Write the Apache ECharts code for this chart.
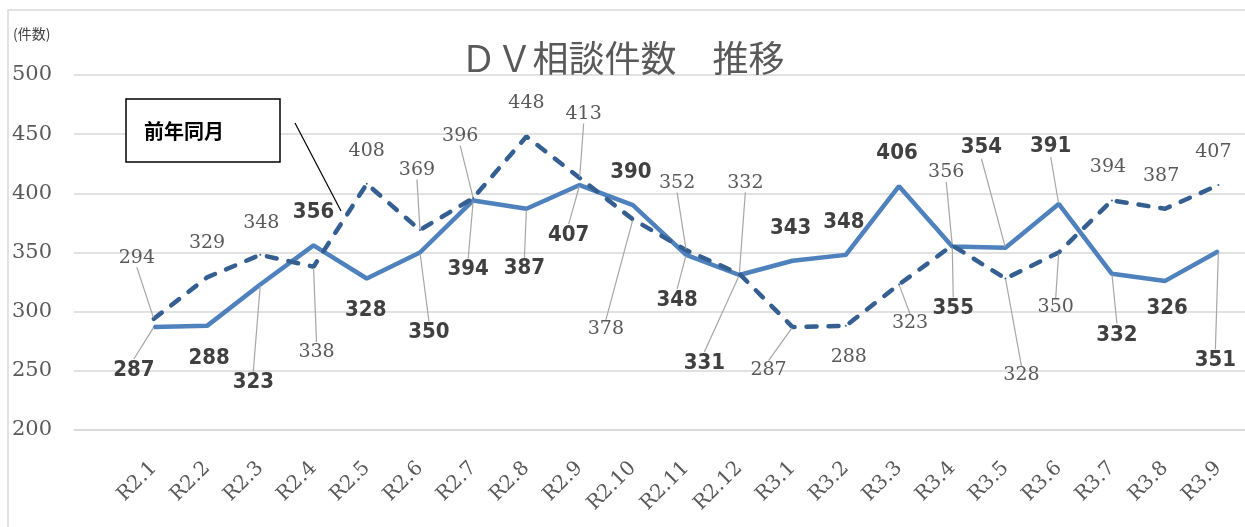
<!DOCTYPE html>
<html>
<head>
<meta charset="utf-8">
<script src="https://cdn.jsdelivr.net/npm/echarts@6/dist/echarts.min.js"></script>
<style>
html,body{margin:0;padding:0;background:#fff;}
#chart{width:1245px;height:527px;}
</style>
</head>
<body>
<div id="chart"></div>
<script>
// ---- data ----
const categories = ['R2.1','R2.2','R2.3','R2.4','R2.5','R2.6','R2.7','R2.8','R2.9','R2.10','R2.11','R2.12',
                    'R3.1','R3.2','R3.3','R3.4','R3.5','R3.6','R3.7','R3.8','R3.9'];
const currentYear  = [287,288,323,356,328,350,394,387,407,390,348,331,343,348,406,355,354,391,332,326,351];
const previousYear = [294,329,348,338,408,369,396,448,413,378,352,332,287,288,323,356,328,350,394,387,407];
const yTicks = {min: 200, max: 500, interval: 50};

// ---- label placement (layout only) ----
const curLabelOffsets = [[-20,43],[2,32],[-7,98],[0,-33],[-1,32],[9,80],[-5,69],[-2,60],[-11,50],[-2,-33],[-9,45],
                         [-35,88],[-2,-33],[-2,-33],[-2,-33],[1,62],[-24,-100],[-8,-58],[5,61],[2,27],[-3,109]];
const curLeader = [1,0,1,0,0,1,1,1,1,0,1,1,0,0,0,1,1,1,1,0,1];
const prevLabelOffsets = [[-17,-61],[0,-34],[1,-32],[3,85],[0,-33],[-3,-60],[-13,-62],[0,-33],[4,-64],[-27,110],[-9,-67],
                          [6,-91],[-24,43],[3,31],[11,39],[-6,-73],[16,97],[-3,55],[-4,-33],[-4,-33],[-5,-33]];
const prevLeader = [1,0,0,1,0,1,1,0,1,1,1,1,1,0,1,1,1,1,0,0,0];

function buildData(values, leaders) {
  const out = ['-'];
  values.forEach((v, i) => {
    out.push({value: v, labelLine: {show: !!leaders[i]}});
  });
  return out;
}
function layoutFor(offsets) {
  return function (params) {
    const o = offsets[params.dataIndex - 1];
    if (!o) return {};
    return {dx: o[0], dy: o[1]};
  };
}

const chart = echarts.init(document.getElementById('chart'));
chart.setOption({
  animation: false,
  backgroundColor: '#ffffff',
  title: {
    text: 'ＤＶ相談件数　推移',
    left: 'center',
    top: 35,
    textStyle: {fontFamily: "'Noto Sans CJK JP', sans-serif", fontWeight: 'normal', fontSize: 36, color: '#595959'}
  },
  grid: {left: 74, top: 75, width: 1172, height: 355},
  xAxis: {
    type: 'category',
    data: [''].concat(categories),
    boundaryGap: true,
    axisTick: {show: false},
    axisLine: {lineStyle: {color: '#D9D9D9', width: 1.5}},
    axisLabel: {rotate: 45, interval: 0, margin: 35, fontFamily: "'DejaVu Serif', serif", fontSize: 20, color: '#595959'}
  },
  yAxis: {
    type: 'value',
    min: yTicks.min, max: yTicks.max, interval: yTicks.interval,
    axisLine: {show: false},
    axisTick: {show: false},
    axisLabel: {align: 'left', margin: 62, fontFamily: "'DejaVu Serif', serif", fontSize: 21, color: '#595959'},
    splitLine: {lineStyle: {color: '#D9D9D9', width: 1.5}}
  },
  series: [
    {
      name: '今年',
      type: 'line',
      data: buildData(currentYear, curLeader),
      symbol: 'circle', symbolSize: 2, showAllSymbol: true,
      itemStyle: {color: '#4F81BD'},
      lineStyle: {color: '#4F81BD', width: 4.5},
      emphasis: {disabled: true},
      label: {show: true, position: 'inside', fontFamily: "'DejaVu Sans Condensed', 'Liberation Sans', sans-serif",
              fontWeight: 'bold', fontSize: 22, color: '#404040'},
      labelLine: {show: false, length2: 0, lineStyle: {color: '#A6A6A6', width: 1.2}},
      labelLayout: layoutFor(curLabelOffsets),
      z: 2
    },
    {
      name: '前年同月',
      type: 'line',
      data: buildData(previousYear, prevLeader),
      symbol: 'circle', symbolSize: 2, showAllSymbol: true,
      itemStyle: {color: '#355F91'},
      lineStyle: {color: '#355F91', width: 4.5, type: [10, 12], cap: 'round'},
      emphasis: {disabled: true},
      label: {show: true, position: 'inside', fontFamily: "'DejaVu Serif', serif",
              fontSize: 19, color: '#595959'},
      labelLine: {show: false, length2: 0, lineStyle: {color: '#A6A6A6', width: 1.2}},
      labelLayout: layoutFor(prevLabelOffsets),
      z: 3
    }
  ],
  graphic: [
    {type: 'rect', z: -10, shape: {x: 8, y: 10, width: 1260, height: 540},
     style: {fill: 'none', stroke: '#D9D9D9', lineWidth: 1.5}, silent: true},
    {type: 'text', left: 13, top: 27,
     style: {text: '(件数)', fontFamily: "'Noto Sans CJK JP', sans-serif", fontSize: 14, fill: '#404040'}},
    {type: 'rect', z: 10, shape: {x: 126, y: 99, width: 154, height: 63},
     style: {fill: '#ffffff', stroke: '#000000', lineWidth: 1.5}},
    {type: 'text', z: 11, x: 144, y: 131,
     style: {text: '前年同月', fontFamily: "'Noto Sans CJK JP', sans-serif", fontWeight: 'bold', fontSize: 20,
             fill: '#000000', verticalAlign: 'middle'}},
    {type: 'line', z: 10, shape: {x1: 295, y1: 123, x2: 341, y2: 211},
     style: {stroke: '#000000', lineWidth: 1.2}}
  ]
});
</script>
</body>
</html>
